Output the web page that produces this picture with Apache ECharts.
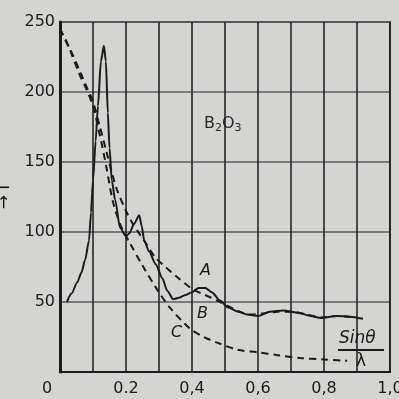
<!DOCTYPE html>
<html>
<head>
<meta charset="utf-8">
<script src="https://cdn.jsdelivr.net/npm/echarts@6/dist/echarts.min.js"></script>
<style>
  html, body { margin: 0; padding: 0; background: #d4d4d2; }
  #chart { width: 399px; height: 399px; }
</style>
</head>
<body>
<div id="chart"></div>
<script>
// sinθ/λ tick labels (the scan mixes "." and ",")
const xTickLabels = ['0', '', '0.2', '', '0,4', '', '0,6', '', '0,8', '', '1,0']
const yTickLabels = ['', '50', '100', '150', '200', '250']

// A: measured curve (solid)
const curveAx = [0.021, 0.035, 0.052, 0.065, 0.076, 0.088, 0.094, 0.1, 0.108, 0.115, 0.124, 0.133, 0.139, 0.145, 0.15, 0.157, 0.167, 0.182, 0.2, 0.21, 0.225, 0.24, 0.248, 0.255, 0.27, 0.29, 0.31, 0.325, 0.343, 0.36, 0.38, 0.4, 0.42, 0.44, 0.46, 0.485, 0.51, 0.54, 0.567, 0.6, 0.636, 0.676, 0.727, 0.76, 0.79, 0.839, 0.9]
const curveAy = [50, 56, 64, 71, 80, 94, 114, 137, 165, 190, 222, 233, 222, 185, 160, 137, 123, 103, 97, 99, 106, 112, 104, 94, 86, 77, 67, 58, 52, 53, 55, 57, 60, 60, 57, 51, 46, 43, 41, 40, 43, 44, 42, 40, 38.5, 40, 39]

// B: upper dashed curve
const curveBx = [0, 0.03, 0.06, 0.08, 0.1, 0.12, 0.14, 0.16, 0.173, 0.2, 0.22, 0.24, 0.26, 0.288, 0.32, 0.354, 0.403, 0.44, 0.476, 0.536, 0.576, 0.62, 0.66, 0.7, 0.75, 0.79, 0.84, 0.92]
const curveBy = [245, 231, 215, 204, 193, 176, 158, 140, 130, 115, 106, 99, 92, 82, 75, 68, 59, 55, 51, 44, 41, 42, 43, 43, 41, 39, 40, 38]

// C: lower dashed curve
const curveCx = [0, 0.03, 0.06, 0.08, 0.1, 0.12, 0.14, 0.161, 0.185, 0.212, 0.25, 0.294, 0.333, 0.394, 0.436, 0.476, 0.536, 0.6, 0.66, 0.727, 0.8, 0.87]
const curveCy = [245, 230, 212, 202, 190, 170, 147, 121, 104, 92, 76, 59, 46, 31, 25, 21, 16, 14, 12, 10, 9, 8]

const pairs = (xs, ys) => xs.map((x, i) => [x, ys[i]])

const ink = '#1b1b1b'
const font = 'DejaVu Sans'

const chart = echarts.init(document.getElementById('chart'))

const option = {
  backgroundColor: '#d4d4d2',
  animation: false,
  grid: {
    left: 60,
    right: 9,
    top: 22,
    bottom: 27,
    outerBoundsMode: 'none',
    show: true,
    borderColor: ink,
    borderWidth: 1.5,
  },
  xAxis: {
    type: 'value',
    min: 0,
    max: 1,
    interval: 0.1,
    axisLine: { show: true, onZero: false, lineStyle: { color: ink, width: 2 } },
    axisTick: { show: false },
    splitLine: { show: true, lineStyle: { color: ink, width: 1.5 } },
    axisLabel: {
      show: true,
      margin: 9,
      color: ink,
      fontFamily: font,
      fontSize: 16,
      showMaxLabel: true,
      formatter: function (val) {
        const i = Math.round(val * 10)
        if (i === 0) return '{z|' + xTickLabels[0] + '}'
        return xTickLabels[i] || ''
      },
      rich: {
        z: { color: ink, fontFamily: font, fontSize: 16, padding: [0, 26, 0, 0] },
      },
    },
  },
  yAxis: {
    type: 'value',
    min: 0,
    max: 250,
    interval: 50,
    name: '→ I',
    nameLocation: 'middle',
    nameRotate: 90,
    nameGap: 44,
    nameTextStyle: { color: ink, fontFamily: font, fontSize: 17 },
    axisLine: { show: true, lineStyle: { color: ink, width: 3 } },
    axisTick: { show: false },
    splitLine: { show: true, lineStyle: { color: '#5e5e5e', width: 1.5 } },
    axisLabel: {
      show: true,
      margin: 5,
      color: ink,
      fontFamily: font,
      fontSize: 16,
      formatter: function (val) {
        return yTickLabels[Math.round(val / 50)] || ''
      },
    },
  },
  graphic: [
    {
      type: 'text',
      left: 203,
      top: 111,
      style: {
        text: '{n|B}{s|2}{n|O}{s|3}',
        backgroundColor: '#d4d4d2',
        padding: [2, 1],
        rich: {
          n: { fontFamily: font, fontSize: 16, fill: '#2a2a2a' },
          s: { fontFamily: font, fontSize: 11, fill: '#2a2a2a', padding: [10, 0, 0, 0] },
        },
      },
    },
    { type: 'text', left: 200, top: 263, style: { text: 'A', font: 'italic 16px "DejaVu Sans"', fill: ink } },
    { type: 'text', left: 197, top: 306, style: { text: 'B', font: 'italic 16px "DejaVu Sans"', fill: ink } },
    { type: 'text', left: 171, top: 325, style: { text: 'C', font: 'italic 16px "DejaVu Sans"', fill: ink } },
    { type: 'text', left: 339, top: 330, style: { text: 'Sinθ', font: 'italic 17px "DejaVu Sans"', fill: ink } },
    { type: 'line', shape: { x1: 338, y1: 350, x2: 384, y2: 350 }, style: { stroke: ink, lineWidth: 2 } },
    { type: 'text', left: 356, top: 353, style: { text: 'λ', font: '17px "DejaVu Sans"', fill: ink } },
  ],
  series: [
    {
      name: 'A',
      type: 'line',
      data: pairs(curveAx, curveAy),
      showSymbol: false,
      smooth: 0.25,
      smoothMonotone: 'x',
      lineStyle: { color: ink, width: 2 },
      z: 5,
    },
    {
      name: 'B',
      type: 'line',
      data: pairs(curveBx, curveBy),
      showSymbol: false,
      smooth: 0.3,
      lineStyle: { color: ink, width: 2, type: [7, 5] },
      z: 4,
    },
    {
      name: 'C',
      type: 'line',
      data: pairs(curveCx, curveCy),
      showSymbol: false,
      smooth: 0.3,
      lineStyle: { color: ink, width: 2, type: [7, 5] },
      z: 4,
    },
  ],
}

chart.setOption(option)
window.addEventListener('resize', () => chart.resize())
</script>
</body>
</html>
